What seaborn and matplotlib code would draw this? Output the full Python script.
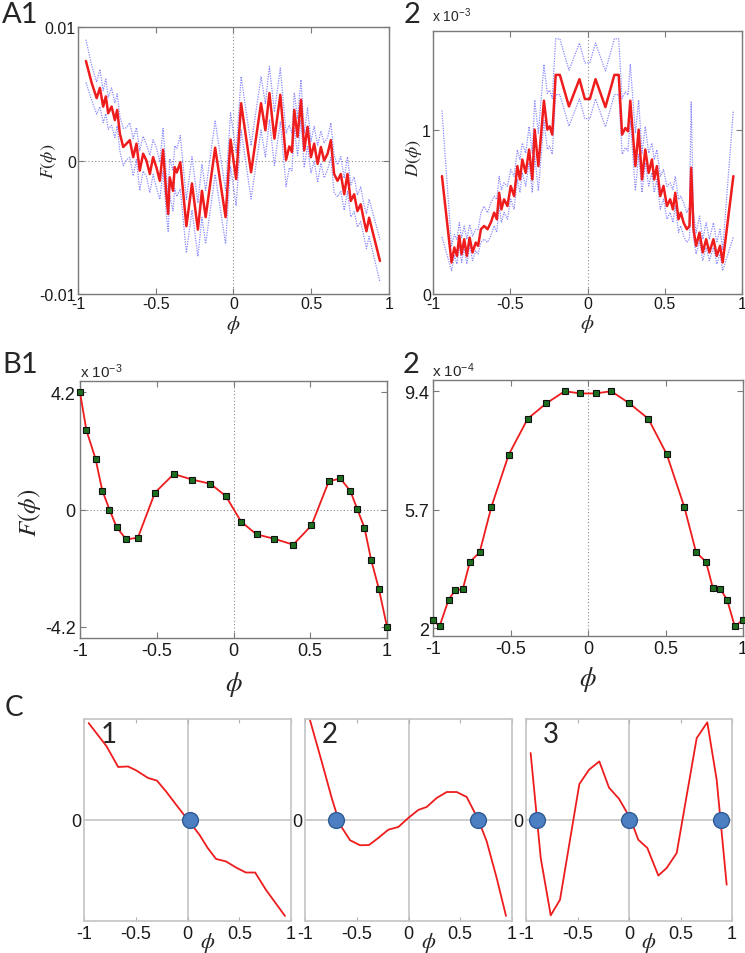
import numpy as np
import seaborn as sns
import matplotlib
matplotlib.use('Agg')
import matplotlib.pyplot as plt

# ---- values ----
# A1: estimated drift F(phi), units of 1e-3, with half-width of the dotted band
a1_phi = [-0.949, -0.912, -0.880, -0.859, -0.838, -0.821, -0.806, -0.784, -0.763, -0.748,
          -0.731, -0.709, -0.688, -0.667, -0.645, -0.624, -0.603, -0.581, -0.560, -0.538,
          -0.517, -0.496, -0.474, -0.453, -0.432, -0.420, -0.410, -0.389, -0.378, -0.365,
          -0.342, -0.303, -0.267, -0.229, -0.203, -0.179, -0.118, -0.051, -0.019, 0.017,
          0.049, 0.113, 0.177, 0.205, 0.231, 0.263, 0.301, 0.338, 0.359, 0.376,
          0.391, 0.412, 0.434, 0.455, 0.476, 0.498, 0.519, 0.541, 0.562, 0.583,
          0.605, 0.626, 0.647, 0.669, 0.690, 0.712, 0.733, 0.754, 0.776, 0.797,
          0.818, 0.840, 0.855, 0.872, 0.942]
a1_F = [7.45, 5.81, 4.67, 5.43, 4.04, 4.80, 3.54, 4.04, 3.03, 3.79,
        2.02, 1.01, 1.26, 1.52, 0.25, 1.26, -0.76, 0.51, 0.00, -1.01,
        0.25, -0.51, -1.52, 0.80, -2.53, -4.00, -1.26, -2.27, -0.50, -0.90,
        -0.13, -4.92, -1.72, -5.18, -2.27, -4.24, 0.96, -4.24, 1.57, -1.39,
        4.29, -0.88, 4.29, 2.27, 5.05, 1.64, 4.92, 0.05, 1.06, 0.63,
        3.79, 1.77, 4.55, 0.76, 2.53, 0.25, 1.26, -0.25, 1.01, 0.00,
        0.51, 1.52, -1.01, -1.52, -1.01, -2.53, -1.01, -3.03, -2.53, -3.79,
        -3.28, -4.55, -5.30, -4.29, -7.52]
a1_err = [1.6, 1.3, 1.2, 1.4, 1.2, 1.3, 1.2, 1.4, 1.3, 1.2,
          1.3, 1.4, 1.2, 1.3, 1.4, 1.2, 1.5, 1.3, 1.2, 1.4,
          1.3, 1.5, 1.4, 1.6, 1.5, 1.3, 1.4, 1.5, 1.6, 1.8,
          2.0, 2.0, 2.0, 2.0, 2.0, 2.0, 2.0, 2.0, 2.0, 2.0,
          2.0, 2.0, 2.0, 2.0, 2.0, 2.0, 2.0, 2.0, 1.6, 1.4,
          1.3, 1.4, 1.5, 1.3, 1.4, 1.2, 1.3, 1.4, 1.2, 1.3,
          1.2, 1.3, 1.4, 1.2, 1.3, 1.2, 1.3, 1.2, 1.3, 1.2,
          1.3, 1.2, 1.3, 1.4, 1.6]

# A2: estimated diffusion D(phi), units of 1e-3, upper / lower band distances
a2_phi = [-0.942, -0.880, -0.862, -0.845, -0.830, -0.815, -0.798, -0.781, -0.763, -0.744,
          -0.723, -0.708, -0.690, -0.669, -0.647, -0.626, -0.604, -0.587, -0.572, -0.557,
          -0.540, -0.518, -0.497, -0.475, -0.454, -0.437, -0.422, -0.400, -0.378, -0.357,
          -0.342, -0.318, -0.282, -0.260, -0.245, -0.228, -0.206, -0.179, -0.120, -0.052,
          -0.017, 0.015, 0.052, 0.116, 0.174, 0.202, 0.224, 0.245, 0.262, 0.277,
          0.310, 0.331, 0.353, 0.374, 0.396, 0.417, 0.432, 0.449, 0.471, 0.492,
          0.514, 0.535, 0.553, 0.568, 0.589, 0.604, 0.622, 0.643, 0.660, 0.671,
          0.686, 0.703, 0.725, 0.746, 0.768, 0.789, 0.815, 0.837, 0.858, 0.875,
          0.944]
a2_D = [0.717, 0.192, 0.283, 0.232, 0.354, 0.242, 0.333, 0.232, 0.343, 0.253,
        0.313, 0.293, 0.394, 0.414, 0.394, 0.434, 0.495, 0.455, 0.616, 0.515,
        0.576, 0.535, 0.657, 0.596, 0.778, 0.697, 0.818, 0.737, 0.879, 0.697,
        1.000, 0.778, 1.176, 1.000, 1.020, 0.970, 1.333, 1.333, 1.141, 1.307,
        1.186, 1.186, 1.307, 1.137, 1.333, 1.333, 0.970, 1.010, 0.990, 1.176,
        0.778, 1.000, 0.697, 0.879, 0.737, 0.818, 0.697, 0.778, 0.596, 0.657,
        0.535, 0.576, 0.515, 0.616, 0.455, 0.495, 0.434, 0.394, 0.414, 0.768,
        0.394, 0.293, 0.374, 0.253, 0.333, 0.253, 0.333, 0.232, 0.293, 0.192,
        0.717]
a2_err_up = ([0.40]
             + [0.10, 0.08, 0.10, 0.08, 0.10, 0.08, 0.10, 0.08, 0.10, 0.08, 0.10]
             + [0.10, 0.12, 0.10, 0.12, 0.10, 0.12, 0.10, 0.12, 0.10, 0.12, 0.10, 0.12,
                0.10, 0.12, 0.10, 0.12, 0.14, 0.16]
             + [0.18, 0.20]
             + [0.22] * 18
             + [0.20, 0.18, 0.16, 0.14, 0.12, 0.10, 0.12, 0.10, 0.12, 0.10, 0.12, 0.10,
                0.12, 0.10, 0.12, 0.10, 0.12, 0.10, 0.12]
             + [0.40]
             + [0.10, 0.08, 0.10, 0.08, 0.10, 0.08, 0.10, 0.08, 0.10, 0.08]
             + [0.40])
a2_err_dn = ([0.37] + [0.05] * 11 + [0.08] * 18 + [0.15, 0.15] + [0.12] * 18
             + [0.15, 0.15] + [0.08] * 17 + [0.06] + [0.05] * 10 + [0.37])

# B: smoothed estimates on a coarse grid
b_phi = [-1.0, -0.958, -0.899, -0.855, -0.808, -0.762, -0.699, -0.623, -0.512, -0.389,
         -0.269, -0.150, -0.050, 0.050, 0.150, 0.267, 0.389, 0.508, 0.621, 0.697,
         0.762, 0.806, 0.853, 0.897, 0.947, 1.0]
b1_F = [4.19, 2.83, 1.82, 0.68, 0.0, -0.63, -1.07, -1.01, 0.60, 1.27,
        1.07, 0.92, 0.48, -0.44, -0.89, -1.05, -1.26, -0.57, 1.01, 1.11,
        0.65, 0.02, -0.65, -1.81, -2.84, -4.2]       # x 1e-3
b2_D = [2.26, 2.05, 2.89, 3.19, 3.21, 4.06, 4.37, 5.79, 7.41, 8.54,
        9.02, 9.40, 9.33, 9.33, 9.40, 9.02, 8.54, 7.43, 5.79, 4.37,
        4.06, 3.24, 3.22, 2.89, 2.05, 2.26]          # x 1e-4

# C: three example drift shapes and their fixed points
c1_phi = [-0.955, -0.782, -0.670, -0.574, -0.494, -0.381, -0.295, -0.205, -0.109, 0.003,
          0.115, 0.195, 0.276, 0.372, 0.468, 0.564, 0.654, 0.757, 0.942]
c1_F = [0.96, 0.73, 0.525, 0.53, 0.49, 0.416, 0.39, 0.28, 0.15, 0.003,
        -0.145, -0.277, -0.386, -0.41, -0.47, -0.52, -0.52, -0.69, -0.95]
c2_phi = [-0.952, -0.839, -0.742, -0.662, -0.565, -0.469, -0.382, -0.292, -0.195, -0.098,
          -0.002, 0.095, 0.176, 0.272, 0.369, 0.466, 0.562, 0.675, 0.755, 0.852, 0.942]
c2_F = [0.99, 0.58, 0.218, -0.046, -0.20, -0.25, -0.248, -0.178, -0.096, -0.069,
        0.02, 0.10, 0.129, 0.218, 0.277, 0.277, 0.228, 0.003, -0.21, -0.574, -0.95]
c3_phi = [-0.955, -0.857, -0.760, -0.670, -0.482, -0.388, -0.288, -0.194, -0.097, 0.010,
          0.090, 0.178, 0.285, 0.366, 0.463, 0.657, 0.760, 0.851, 0.948]
c3_F = [0.663, -0.376, -0.944, -0.79, 0.356, 0.498, 0.58, 0.32, 0.21, 0.02,
        -0.195, -0.277, -0.55, -0.475, -0.327, 0.81, 0.967, 0.40, -0.64]
c1_roots = [0.02]
c2_roots = [-0.703, 0.668]
c3_roots = [-0.896, 0.0, 0.89]

phi_ticks = [-1, -0.5, 0, 0.5, 1]
phi_labels = ['-1', '-0.5', '0', '0.5', '1']

# ---- figure ----
sns.set_style('ticks')
plt.rcParams['font.family'] = ['Liberation Sans', 'DejaVu Sans']
plt.rcParams['mathtext.fontset'] = 'stix'

W, H = 745, 954
fig = plt.figure(figsize=(W / 100, H / 100), dpi=100)


def box(l, t, r, b):
    return fig.add_axes([l / W, 1 - b / H, (r - l) / W, (b - t) / H])


def ftext(px, py, s, **kw):
    fig.text(px / W, 1 - py / H, s, **kw)


def matlab_axes(ax, size, color='#7a7a7a', pad=2):
    for s in ax.spines.values():
        s.set_visible(True)
        s.set_color(color)
        s.set_linewidth(1.0)
    ax.tick_params(direction='in', top=True, right=True, length=4, width=0.8,
                   color=color, labelcolor='#1a1a1a', labelsize=size, pad=pad)
    ax.set_xlim(-1, 1)
    ax.set_xticks(phi_ticks)
    ax.set_xticklabels(phi_labels)


red = '#ee1c1c'
blue = '#8a8aff'
dot = dict(color='#8c8c8c', lw=0.8, ls=(0, (1, 2)), zorder=0)
lbl = 'Lato'

# A1
ax = box(78, 28, 389, 295)
up = np.array(a1_F) + np.array(a1_err)
dn = np.array(a1_F) - np.array(a1_err)
for band in (up, dn):
    sns.lineplot(x=a1_phi, y=band, ax=ax, color=blue, lw=0.9, ls=(0, (1, 1)),
                 estimator=None, sort=False)
sns.lineplot(x=a1_phi, y=a1_F, ax=ax, color=red, lw=1.8, estimator=None, sort=False)
ax.axhline(0, **dot)
ax.axvline(0, **dot)
matlab_axes(ax, 11.5, pad=1.5)
ax.set_ylim(-10, 10)
ax.set_yticks([-10, 0, 10])
ax.set_yticklabels(['-0.01', '0', '0.01'])
ax.set_ylabel(r'$F(\phi)$', fontsize=13)
ax.yaxis.set_label_coords(-0.06, 0.5)
ax.set_xlabel(r'$\phi$', fontsize=15)
ax.xaxis.set_label_coords(0.5, -0.07)

# A2
ax = box(433, 32, 742, 295)
up = np.array(a2_D) + np.array(a2_err_up)
dn = np.array(a2_D) - np.array(a2_err_dn)
for band in (up, dn):
    sns.lineplot(x=a2_phi, y=band, ax=ax, color=blue, lw=0.9, ls=(0, (1, 1)),
                 estimator=None, sort=False)
sns.lineplot(x=a2_phi, y=a2_D, ax=ax, color=red, lw=1.8, estimator=None, sort=False)
ax.axvline(0, **dot)
matlab_axes(ax, 11.5, pad=1.5)
ax.set_ylim(0, 1.6)
ax.set_yticks([0, 1])
ax.set_yticklabels(['0', '1'])
ax.set_ylabel(r'$D(\phi)$', fontsize=13)
ax.yaxis.set_label_coords(-0.03, 0.52)
ax.set_xlabel(r'$\phi$', fontsize=15)
ax.xaxis.set_label_coords(0.5, -0.07)
ftext(432, 22, r'x $\mathregular{10^{-3}}$', fontsize=10, ha='left', va='baseline')

# B1
ax = box(80, 382, 387, 639)
sns.lineplot(x=b_phi, y=b1_F, ax=ax, color=red, lw=1.3, marker='s', markersize=3.7,
             markerfacecolor='#1d6e1d', markeredgecolor='#111111', markeredgewidth=0.8,
             estimator=None, sort=False, clip_on=False, zorder=3)
ax.axhline(0, **dot)
ax.axvline(0, **dot)
matlab_axes(ax, 13, pad=3)
ax.set_ylim(-4.6, 4.6)
ax.set_yticks([-4.2, 0, 4.2])
ax.set_yticklabels(['-4.2', '0', '4.2'])
ax.set_ylabel(r'$F(\phi)$', fontsize=18)
ax.yaxis.set_label_coords(-0.12, 0.49)
ax.set_xlabel(r'$\phi$', fontsize=19)
ax.xaxis.set_label_coords(0.5, -0.12)
ftext(80, 378, r'x $\mathregular{10^{-3}}$', fontsize=11, ha='left', va='baseline')

# B2
ax = box(433, 381, 743, 637)
sns.lineplot(x=b_phi, y=b2_D, ax=ax, color=red, lw=1.3, marker='s', markersize=3.7,
             markerfacecolor='#1d6e1d', markeredgecolor='#111111', markeredgewidth=0.8,
             estimator=None, sort=False, clip_on=False, zorder=3)
ax.axvline(0, **dot)
matlab_axes(ax, 13, pad=3)
ax.set_ylim(1.75, 9.75)
ax.set_yticks([2, 5.7, 9.4])
ax.set_yticklabels(['2', '5.7', '9.4'])
ax.set_xlabel(r'$\phi$', fontsize=19)
ax.xaxis.set_label_coords(0.5, -0.11)
ftext(432, 377, r'x $\mathregular{10^{-4}}$', fontsize=11, ha='left', va='baseline')

# C
c_sets = [((84, 291), c1_phi, c1_F, c1_roots, '1'),
          ((305, 512), c2_phi, c2_F, c2_roots, '2'),
          ((526, 732), c3_phi, c3_F, c3_roots, '3')]
for (l, r), phi, F, roots, tag in c_sets:
    ax = box(l, 720, r, 922)
    ax.axhline(0, color='#c4c4c4', lw=1.2, zorder=0)
    ax.axvline(0, color='#c4c4c4', lw=1.2, zorder=0)
    sns.lineplot(x=phi, y=F, ax=ax, color=red, lw=1.3, estimator=None, sort=False)
    sns.scatterplot(x=roots, y=[0] * len(roots), ax=ax, s=130, color='#4c7ec2',
                    edgecolor='#2f5c94', linewidth=1.0, zorder=5, clip_on=False)
    for s in ax.spines.values():
        s.set_visible(True)
        s.set_color('#c4c4c4')
        s.set_linewidth(1.2)
    ax.tick_params(direction='in', top=True, length=3, width=0.8, color='#b0b0b0',
                   labelcolor='#1a1a1a', labelsize=13, pad=3)
    ax.tick_params(axis='y', right=False, length=0, pad=2)
    ax.set_xlim(-1, 1)
    ax.set_ylim(-1, 1)
    ax.set_xticks(phi_ticks)
    ax.set_xticklabels(phi_labels)
    ax.set_yticks([0])
    ax.set_yticklabels(['0'])
    ax.set_xlabel('')
    ax.set_ylabel('')
    ax.text(0.595, -0.105, r'$\phi$', transform=ax.transAxes, fontsize=16,
            ha='center', va='center')
    ftext(l + 17, 722, tag, fontsize=20, family=lbl, ha='left', va='top')

# panel letters
ftext(2, 2, 'A1', fontsize=21, family=lbl, ha='left', va='top')
ftext(404, 2, '2', fontsize=21, family=lbl, ha='left', va='top')
ftext(2, 352, 'B1', fontsize=21, family=lbl, ha='left', va='top')
ftext(403, 352, '2', fontsize=21, family=lbl, ha='left', va='top')
ftext(5, 695, 'C', fontsize=20, family=lbl, ha='left', va='top')

fig.savefig('out.png', dpi=100)
